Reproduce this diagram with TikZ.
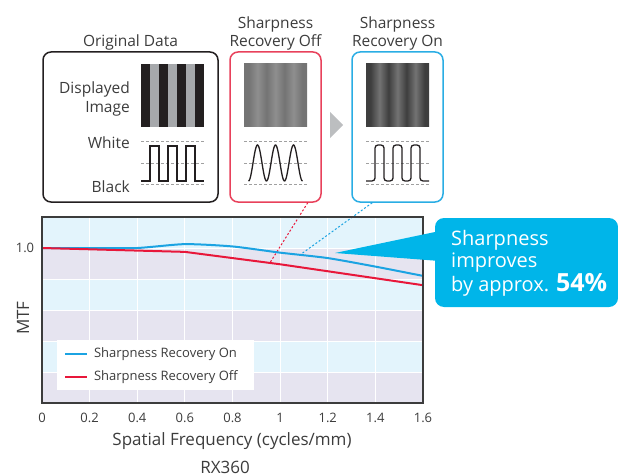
\documentclass[tikz,border=0pt]{standalone}
\usepackage{fontspec}
\setmainfont{Open Sans}
\usepackage{tikz}
\usetikzlibrary{positioning}
\usetikzlibrary{calc}
\definecolor{txtgray}{HTML}{3C3C3C}
\definecolor{stripedark}{HTML}{231F20}
\definecolor{stripegray}{HTML}{A6A8AB}
\definecolor{offdark}{HTML}{747474}
\definecolor{offlight}{HTML}{8E8E8E}
\definecolor{ondark}{HTML}{3E3E3E}
\definecolor{onlight}{HTML}{737373}
\definecolor{offred}{HTML}{E8415B}
\definecolor{onblue}{HTML}{2AADE4}
\definecolor{curvered}{HTML}{E8173A}
\definecolor{curveblue}{HTML}{1BA3E2}
\definecolor{notecyan}{HTML}{00B5E9}
\definecolor{bandblue}{HTML}{E3F4FC}
\definecolor{bandlav}{HTML}{E6E4F0}
\definecolor{guidegray}{HTML}{A0A0A0}
\definecolor{arrowgray}{HTML}{BCBEC0}
\pgfdeclarehorizontalshading{offblur}{100bp}{color(0bp)=(offdark); color(28.57bp)=(offdark); color(35.71bp)=(offlight); color(42.86bp)=(offdark); color(50bp)=(offlight); color(57.14bp)=(offdark); color(64.29bp)=(offlight); color(71.43bp)=(offdark); color(100bp)=(offdark)}
\pgfdeclarehorizontalshading{onblur}{100bp}{color(0bp)=(ondark); color(28.57bp)=(ondark); color(35.71bp)=(onlight); color(42.86bp)=(ondark); color(50bp)=(onlight); color(57.14bp)=(ondark); color(64.29bp)=(onlight); color(71.43bp)=(ondark); color(100bp)=(ondark)}
\tikzset{box/.style={draw, rounded corners=8pt, line width=1.5pt, minimum width=#1, minimum height=150pt},
  title/.style={align=center, font=\fontsize{15.5}{18}\selectfont, inner sep=0pt},
  lbl/.style={align=right, anchor=east, font=\fontsize{15.5}{19}\selectfont, inner sep=0pt},
  guide/.style={guidegray, dash pattern=on 3pt off 2pt, line width=0.8pt},
  wave/.style={stripedark, line width=1.3pt},
  dots/.style={dash pattern=on 2pt off 2pt, line width=1pt},
  ticklbl/.style={font=\fontsize{13}{15}\selectfont, inner sep=0pt},
  axislbl/.style={font=\fontsize{17}{20}\selectfont, inner sep=0pt},
  legtext/.style={text=txtgray, font=\fontsize{13}{15}\selectfont, inner sep=0pt, anchor=west},
  oncurve/.style={curveblue, line width=2pt},
  offcurve/.style={curvered, line width=2pt}}
\begin{document}
\begin{tikzpicture}[x=1pt, y=-1pt, text=txtgray]
\useasboundingbox (0,0) rectangle (618,476);
% top row
\node[box=175pt, stripedark] (orig) at (130.5,127) {};
\node[box=91pt, offred] (off) at (275.5,127) {};
\node[box=91pt, onblue] (on) at (397.5,127) {};
\node[title, above=1pt of orig] (origtitle) {Original Data};
\node[title, above=1pt of off] (offtitle) {Sharpness\\Recovery Off};
\node[title, above=1pt of on] (ontitle) {Sharpness\\Recovery On};
\node[lbl] (disp) at (130,99) {Displayed\\Image};
\node[lbl] (white) at (130,143) {White};
\node[lbl] (black) at (130,187) {Black};
\fill[stripedark] (141,64) rectangle (204,127);
\fill[stripegray] (150,64) rectangle (159,127);
\fill[stripegray] (168,64) rectangle (177,127);
\fill[stripegray] (186,64) rectangle (195,127);
\shade[shading=offblur] (244,64) rectangle (307,127);
\shade[shading=onblur] (366,64) rectangle (429,127);
\draw[guide] (141,141) -- (204,141) (141,163) -- (204,163) (141,184) -- (204,184);
\draw[guide] (244,141) -- (307,141) (244,163) -- (307,163) (244,184) -- (307,184);
\draw[guide] (366,141) -- (429,141) (366,163) -- (429,163) (366,184) -- (429,184);
\draw[wave] (141,181) -- (150,181) -- (150,146) -- (159,146) -- (159,181) -- (168,181) -- (168,146) -- (177,146) -- (177,181) -- (186,181) -- (186,146) -- (195,146) -- (195,181) -- (204,181);
\draw[wave] plot[domain=248.5:302.5, samples=80] (\x, {163+18*cos(20*(\x-248.5))});
\draw[wave, rounded corners=3pt] (366,181) -- (375,181) -- (375,145) -- (384,145) -- (384,181) -- (393,181) -- (393,145) -- (402,145) -- (402,181) -- (411,181) -- (411,145) -- (420,145) -- (420,181) -- (429,181);
\fill[arrowgray] (330,112) -- (343,125) -- (330,138) -- cycle;
% MTF chart
\begin{scope}[shift={(42,403)}, x=238.125pt, y=155pt]
\fill[bandlav] (0,0) rectangle (1.6,1.2);
\fill[bandblue] (0,0.2) rectangle (1.6,0.4);
\fill[bandblue] (0,0.6) rectangle (1.6,0.8);
\fill[bandblue] (0,1.0) rectangle (1.6,1.2);
\draw[white, line width=1pt] (0,0) grid[xstep=0.2, ystep=0.2] (1.6,1.2);
\coordinate (offpt) at (0.957,0.904);
\coordinate (onpt) at (1.083,0.955);
\foreach \x [count=\i] in {0,0.2,0.4,0.6,0.8,1,1.2,1.4,1.6}
  \node[ticklbl] (tick\i) at ([yshift=-15pt]\x,0) {\x};
\node[ticklbl] (one) at ([xshift=-17pt]0,1.0) {1.0};
\end{scope}
\draw[dots, curvered] ([xshift=-14pt]off.south east) -- (offpt);
\draw[dots, curveblue] ([xshift=21pt]on.south west) -- (onpt);
\begin{scope}[shift={(42,403)}, x=238.125pt, y=155pt]
\draw[oncurve] plot[smooth, tension=0.4] coordinates {(0,1.0) (0.2,1.0) (0.4,1.0) (0.6,1.025) (0.8,1.01) (1.0,0.97) (1.2,0.935) (1.4,0.88) (1.6,0.82)};
\draw[offcurve] plot coordinates {(0,1.0) (0.6,0.975) (1.0,0.895) (1.6,0.76)};
\draw[txtgray, line width=1.3pt] (0,0) rectangle (1.6,1.2);
\end{scope}
\fill[white] (57,340) rectangle (254,390);
\draw[oncurve] (65,354) -- (87,354) node[legtext, right=6pt] (legon) {Sharpness Recovery On};
\draw[offcurve] (65,377) -- (87,377) node[legtext, right=6pt] (legoff) {Sharpness Recovery Off};
\node[axislbl, rotate=90] (mtf) at (23,318) {MTF};
\node[axislbl] (xlabel) at (232,441) {Spatial Frequency (cycles/mm)};
\node[axislbl] (model) at (225,467) {RX360};
% callout
\node[fill=notecyan, rounded corners=9pt, minimum width=183pt, minimum height=89pt] (note) at (526.5,262.5) {};
\coordinate (tip) at (335,253);
\fill[notecyan] ([xshift=5pt, yshift=31.5pt]note.west) -- (tip) -- ([xshift=5pt, yshift=1.5pt]note.west) -- cycle;
\node[white, anchor=north west, align=left, inner sep=0pt, font=\fontsize{20}{22.5}\selectfont] (notetext) at (451,229.8) {Sharpness\\improves\\by approx. {\fontsize{25}{22.5}\selectfont\bfseries 54\%}};
\end{tikzpicture}
\end{document}
